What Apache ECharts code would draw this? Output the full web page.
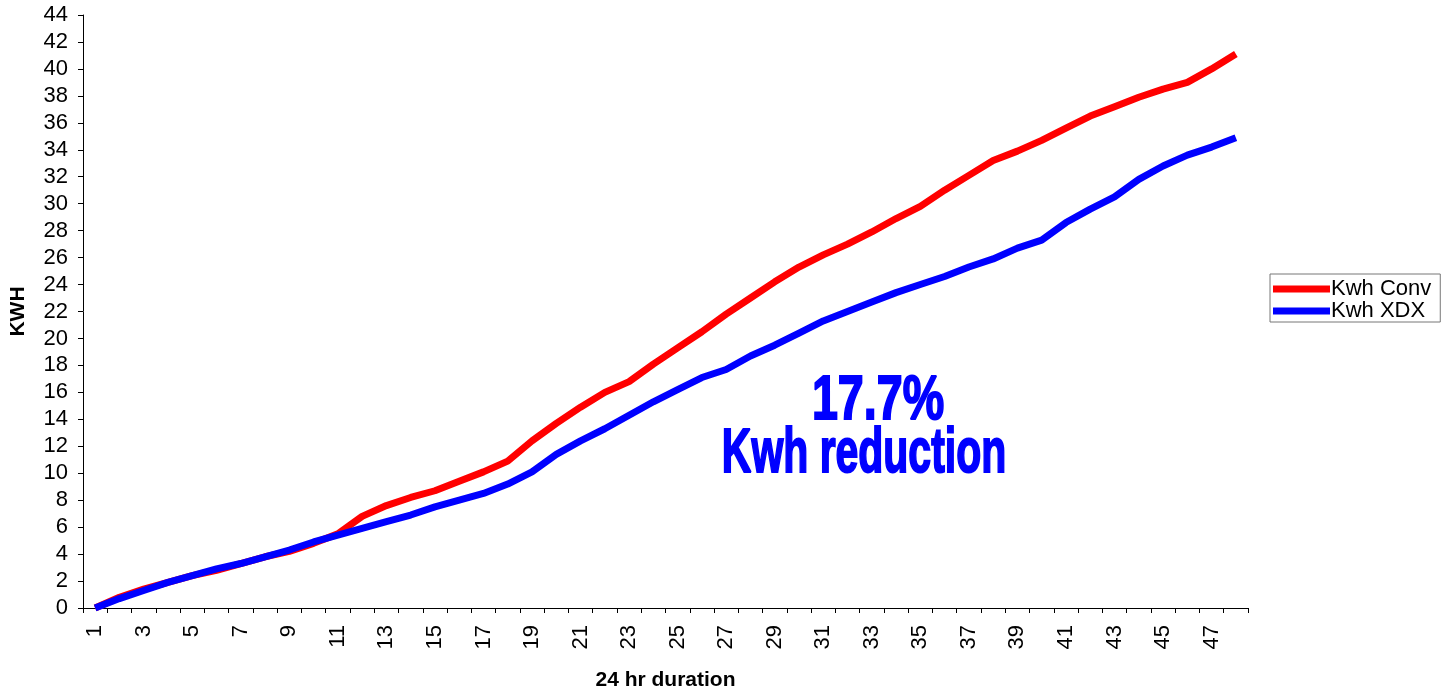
<!DOCTYPE html>
<html>
<head>
<meta charset="utf-8">
<script src="https://cdn.jsdelivr.net/npm/echarts@6/dist/echarts.min.js"></script>
<style>
  html, body { margin: 0; padding: 0; background: #fff; }
  #chart { width: 1450px; height: 689px; }
</style>
</head>
<body>
<div id="chart"></div>
<script>
// hours (half-hour steps) 1..48
const hours = [
  "1", "2", "3", "4", "5", "6", "7", "8", "9", "10", "11", "12",
  "13", "14", "15", "16", "17", "18", "19", "20", "21", "22", "23", "24",
  "25", "26", "27", "28", "29", "30", "31", "32", "33", "34", "35", "36",
  "37", "38", "39", "40", "41", "42", "43", "44", "45", "46", "47", "48"
];

const kwhConv = [
  0, 0.8, 1.4, 1.9, 2.4, 2.8, 3.3, 3.8, 4.2, 4.8, 5.5, 6.8,
  7.6, 8.2, 8.7, 9.4, 10.1, 10.9, 12.4, 13.7, 14.9, 16.0, 16.8, 18.1,
  19.3, 20.5, 21.8, 23.0, 24.2, 25.3, 26.2, 27.0, 27.9, 28.9, 29.8, 31.0,
  32.1, 33.2, 33.9, 34.7, 35.6, 36.5, 37.2, 37.9, 38.5, 39.0, 40.0, 41.1
];

const kwhXdx = [
  0, 0.7, 1.3, 1.9, 2.4, 2.9, 3.3, 3.8, 4.3, 4.9, 5.4, 5.9,
  6.4, 6.9, 7.5, 8.0, 8.5, 9.2, 10.1, 11.4, 12.4, 13.3, 14.3, 15.3,
  16.2, 17.1, 17.7, 18.7, 19.5, 20.4, 21.3, 22.0, 22.7, 23.4, 24.0, 24.6,
  25.3, 25.9, 26.7, 27.3, 28.6, 29.6, 30.5, 31.8, 32.8, 33.6, 34.2, 34.9
];

const seriesNames = ["Kwh Conv", "Kwh XDX"];
const noteLines = ["17.7%", "Kwh reduction"];

const FONT = "'Liberation Sans', Arial, sans-serif";

const chart = echarts.init(document.getElementById("chart"));

const option = {
  animation: false,
  backgroundColor: "#fff",
  textStyle: { fontFamily: FONT, color: "#000" },
  grid: {
    left: 83,
    right: 202,
    top: 15,
    bottom: 81,
    containLabel: false,
    outerBoundsMode: "none",
  },
  legend: {
    orient: "vertical",
    left: 1270,
    top: 274,
    padding: [4, 9, 0, 3],
    itemGap: 0,
    itemWidth: 57,
    itemHeight: 7,
    icon: "rect",
    borderColor: "#777",
    borderWidth: 1,
    data: seriesNames,
    textStyle: { fontFamily: FONT, fontSize: 22, lineHeight: 21, color: "#000", padding: [0, 0, 0, -4] },
  },
  xAxis: {
    type: "category",
    data: hours,
    boundaryGap: true,
    name: "24 hr duration",
    nameLocation: "middle",
    nameGap: 62,
    nameTextStyle: { fontFamily: FONT, fontSize: 21, fontWeight: "bold", color: "#000" },
    axisLine: { lineStyle: { color: "#000", width: 1 } },
    axisTick: { show: true, interval: 0, length: 5, lineStyle: { color: "#000" } },
    axisLabel: {
      interval: 1,
      rotate: 90,
      margin: 17,
      fontSize: 22,
      color: "#000",
      fontFamily: FONT,
    },
    splitLine: { show: false },
  },
  yAxis: {
    type: "value",
    min: 0,
    max: 44,
    interval: 2,
    name: "KWH",
    nameLocation: "middle",
    nameGap: 54,
    nameTextStyle: { fontFamily: FONT, fontSize: 21, fontWeight: "bold", color: "#000" },
    axisLine: { show: true, lineStyle: { color: "#000", width: 1 } },
    axisTick: { show: true, length: 5, lineStyle: { color: "#000" } },
    axisLabel: { margin: 15, fontSize: 22, color: "#000", fontFamily: FONT },
    splitLine: { show: false },
  },
  series: [
    {
      name: seriesNames[0],
      type: "line",
      data: kwhConv,
      showSymbol: false,
      symbol: "none",
      itemStyle: { color: "#ff0000" },
      lineStyle: { color: "#ff0000", width: 7 },
    },
    {
      name: seriesNames[1],
      type: "line",
      data: kwhXdx,
      showSymbol: false,
      symbol: "none",
      itemStyle: { color: "#0000ff" },
      lineStyle: { color: "#0000ff", width: 7 },
    },
  ],
  graphic: [
    {
      type: "text",
      x: 878,
      y: 402,
      scaleX: 0.74,
      style: {
        text: noteLines[0],
        font: "bold 63px " + FONT,
        fill: "#0000ff",
        stroke: "#0000ff",
        lineWidth: 2,
        align: "center",
        verticalAlign: "middle",
      },
    },
    {
      type: "text",
      x: 864,
      y: 455,
      scaleX: 0.65,
      style: {
        text: noteLines[1],
        font: "bold 63px " + FONT,
        fill: "#0000ff",
        stroke: "#0000ff",
        lineWidth: 2,
        align: "center",
        verticalAlign: "middle",
      },
    },
  ],
};

chart.setOption(option);
</script>
</body>
</html>
